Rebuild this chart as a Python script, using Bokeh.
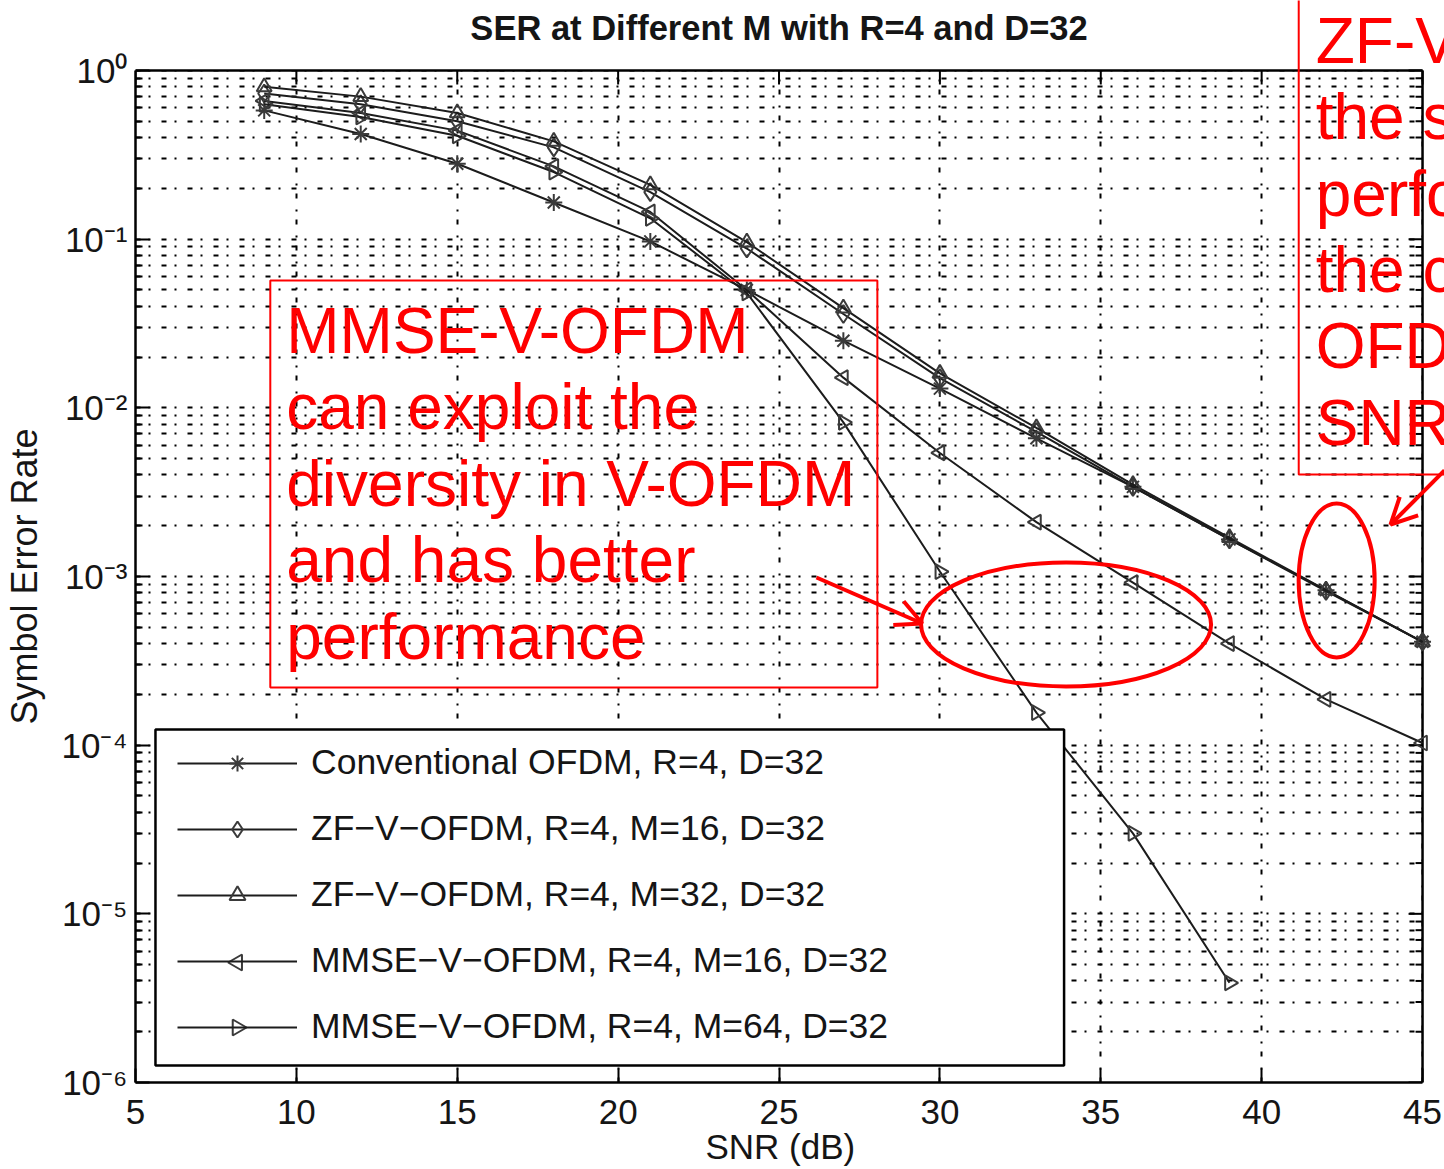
import numpy as np
from bokeh.plotting import figure
from bokeh.models import (Range1d, FixedTicker, CustomJSTickFormatter, ColumnDataSource,
                          Label, BoxAnnotation, Arrow, OpenHead, Legend, LegendItem)
from bokeh.embed import file_html
from bokeh.resources import INLINE

# ---------------- data ----------------
snr = [9, 12, 15, 18, 21, 24, 27, 30, 33, 36, 39, 42, 45]
ser_conv = [0.58, 0.42, 0.28, 0.165, 0.097, 0.050, 0.025, 0.013, 0.0066, 0.0034, 0.00166, 0.00083, 0.00041]
ser_zf16 = [0.73, 0.63, 0.50, 0.35, 0.19, 0.088, 0.036, 0.015, 0.0072, 0.0034, 0.00166, 0.00082, 0.00041]
ser_zf32 = [0.80, 0.70, 0.56, 0.38, 0.21, 0.096, 0.039, 0.016, 0.0076, 0.0035, 0.0017, 0.00083, 0.00041]
ser_mmse16 = [0.66, 0.56, 0.44, 0.27, 0.145, 0.050, 0.0151, 0.0054, 0.0021, 0.00092, 0.00040, 0.000187, 0.000103]
snr_mmse64 = [9, 12, 15, 18, 21, 24, 27, 30, 33, 36, 39]
ser_mmse64 = [0.63, 0.53, 0.41, 0.25, 0.133, 0.048, 0.0082, 0.00107, 0.000156, 0.000030, 0.0000039]

labels = ["Conventional OFDM, R=4, D=32",
          "ZF\u2212V\u2212OFDM, R=4, M=16, D=32",
          "ZF\u2212V\u2212OFDM, R=4, M=32, D=32",
          "MMSE\u2212V\u2212OFDM, R=4, M=16, D=32",
          "MMSE\u2212V\u2212OFDM, R=4, M=64, D=32"]

x_ticks = [5, 10, 15, 20, 25, 30, 35, 40, 45]
y_ticks = [1.0, 1e-1, 1e-2, 1e-3, 1e-4, 1e-5, 1e-6]
y_tick_labels = ["10\u2070", "10\u207b\u00b9", "10\u207b\u00b2", "10\u207b\u00b3",
                 "10\u207b\u2074", "10\u207b\u2075", "10\u207b\u2076"]

title_text = "SER at Different M with R=4 and D=32"
x_label = "SNR (dB)"
y_label = "Symbol Error Rate"
note1 = ["MMSE-V-OFDM", "can exploit the", "diversity in V-OFDM", "and has better", "performance"]
note2 = ["ZF-V-OFDM has", "the same", "performance as", "the conventional", "OFDM at high", "SNR"]

# ---------------- geometry helpers (canvas pixels -> data) ----------------
W, H = 1444, 1169
FX0, FX1, FY0, FY1 = 133, 1422, 70, 1082          # the axes box
XMIN, XMAX, DEC_TOP, DEC_BOT = 5, 45, 0, -6


def dx(px):
    return XMIN + (px - FX0) * (XMAX - XMIN) / (FX1 - FX0)


def dy(py):
    return 10 ** (DEC_TOP - (py - FY0) * (DEC_TOP - DEC_BOT) / (FY1 - FY0))


NBSP = "\u00a0"
FONT = "Liberation Sans"
TXT = "#151515"
YMIN, YMAX = 10.0 ** DEC_BOT, 10.0 ** DEC_TOP

y_minor = [m * 10.0 ** e for e in range(DEC_BOT, DEC_TOP) for m in range(2, 10)]

# the drawing area reaches the top and right edges of the canvas so that the
# annotations outside the axes box (as in the original slide) are not clipped
p = figure(width=W, height=H, x_range=Range1d(XMIN, dx(W)), y_range=Range1d(YMIN, dy(0)),
           y_axis_type="log", output_backend="svg", toolbar_location=None,
           min_border_left=FX0, min_border_right=0, min_border_top=0, min_border_bottom=H - FY1)
p.background_fill_color = "white"
p.border_fill_color = "white"
p.outline_line_color = None

# axes (bounded to the axes box)
p.xaxis.ticker = FixedTicker(ticks=x_ticks)
p.xaxis.bounds = (XMIN, XMAX)
p.yaxis.ticker = FixedTicker(ticks=y_ticks, minor_ticks=y_minor)
p.yaxis.bounds = (YMIN, YMAX)
p.yaxis.formatter = CustomJSTickFormatter(args=dict(vals=y_ticks, labs=y_tick_labels), code="""
let best = 0, bd = 1e9;
for (let i = 0; i < vals.length; i++) {
  const d = Math.abs(Math.log10(vals[i]) - Math.log10(tick));
  if (d < bd) { bd = d; best = i; }
}
return labs[best];
""")
for ax in (p.xaxis[0], p.yaxis[0]):
    ax.axis_line_width = 2.5
    ax.major_tick_in = 14
    ax.major_tick_out = 0
    ax.minor_tick_in = 7
    ax.minor_tick_out = 0
    ax.major_tick_line_width = 2
    ax.minor_tick_line_width = 2
    ax.major_label_text_font = FONT
    ax.major_label_text_font_size = "35px"
    ax.major_label_text_color = TXT
    ax.axis_label_text_font = FONT
    ax.axis_label_text_font_size = "35px"
    ax.axis_label_text_font_style = "normal"
    ax.axis_label_text_color = TXT
p.xaxis.major_label_standoff = 17
# trailing no-break spaces re-centre the labels on the axes box instead of the wider drawing area
p.xaxis.axis_label = x_label + NBSP * 2
p.xaxis.axis_label_standoff = 0
p.yaxis.major_label_standoff = 8
p.yaxis.axis_label = y_label + NBSP * 7
p.yaxis.axis_label_text_font_size = "36px"
p.yaxis.axis_label_standoff = 14

# grid (MATLAB-style dotted)
GRID_DASH = "5 8 2 11"
p.xgrid.grid_line_color = "black"
p.xgrid.grid_line_dash = GRID_DASH
p.xgrid.grid_line_width = 2
p.ygrid.grid_line_color = "black"
p.ygrid.grid_line_dash = GRID_DASH
p.ygrid.grid_line_width = 2
p.ygrid.minor_grid_line_color = "black"
p.ygrid.minor_grid_line_dash = GRID_DASH
p.ygrid.minor_grid_line_width = 2
# keep the grid inside the axes box
p.add_layout(BoxAnnotation(bottom=YMAX, fill_color="white", fill_alpha=1, line_alpha=0, level="underlay"))
p.add_layout(BoxAnnotation(left=XMAX, fill_color="white", fill_alpha=1, line_alpha=0, level="underlay"))

# top and right sides of the box, with inward ticks
p.segment(x0=[XMIN, XMAX], y0=[YMAX, YMIN], x1=[XMAX, XMAX], y1=[YMAX, YMAX], line_color="black", line_width=2.5)
p.segment(x0=x_ticks, y0=[YMAX] * len(x_ticks), x1=x_ticks, y1=[dy(FY0 + 14)] * len(x_ticks),
          line_color="black", line_width=2)
p.segment(x0=[XMAX] * len(y_ticks), y0=y_ticks, x1=[dx(FX1 - 14)] * len(y_ticks), y1=y_ticks,
          line_color="black", line_width=2)
p.segment(x0=[XMAX] * len(y_minor), y0=y_minor, x1=[dx(FX1 - 7)] * len(y_minor), y1=y_minor,
          line_color="black", line_width=2)

# title
p.add_layout(Label(x=dx((FX0 + FX1) / 2), y=dy(27), text=title_text, text_font=FONT, text_font_size="34.5px",
                   text_font_style="bold", text_color=TXT, text_align="center", text_baseline="alphabetic"))

# series
LC = "#1c1c1c"
MC = "#3a3a3a"
series = [
    (snr, ser_conv, "asterisk", 0.0, 17, True),
    (snr, ser_zf16, "diamond", 0.0, 18, True),
    (snr, ser_zf32, "triangle", 0.0, 15, True),
    (snr, ser_mmse16, "triangle", np.pi / 2, 15, False),
    (snr_mmse64, ser_mmse64, "triangle", -np.pi / 2, 15, False),
]
items = []
for (xs, ys, mk, ang, sz, mk_in_legend), lab in zip(series, labels):
    rl = p.line(xs, ys, line_color=LC, line_width=2)
    rs = p.scatter(xs, ys, marker=mk, angle=ang, size=sz, line_color=MC, line_width=2, fill_color=None)
    items.append(LegendItem(label=lab, renderers=[rl, rs] if mk_in_legend else [rl]))

# legend box (white, covers grid & lines)
p.add_layout(BoxAnnotation(left=dx(153), right=dx(1063), top=dy(729), bottom=dy(1065),
                           fill_color="white", fill_alpha=1, line_color="black", line_alpha=1, line_width=2.5))
leg = Legend(items=items, location=(32, 25), padding=10, margin=0, spacing=25,
             glyph_width=120, glyph_height=40, label_height=40, label_standoff=14,
             label_text_font=FONT, label_text_font_size="35.5px", label_text_color=TXT,
             background_fill_alpha=0, border_line_alpha=0)
p.add_layout(leg, "center")
# rotated triangle samples for the two MMSE legend rows (legend ignores marker angle)
leg_src = ColumnDataSource(dict(x=[dx(235), dx(235)], y=[dy(962), dy(1027)], a=[np.pi / 2, -np.pi / 2]))
p.scatter("x", "y", source=leg_src, marker="triangle", angle="a", size=16, line_color=MC,
          line_width=2, fill_color="white", level="overlay")

# annotations in red
RED = "#ff0000"
p.add_layout(BoxAnnotation(left=dx(268), right=dx(876), top=dy(280), bottom=dy(687),
                           fill_alpha=0, line_color=RED, line_alpha=1, line_width=2))
p.add_layout(BoxAnnotation(left=dx(1298), right=dx(1600), top=dy(-20), bottom=dy(474),
                           fill_alpha=0, line_color=RED, line_alpha=1, line_width=2))
base1 = [330, 406.5, 483, 559.5, 636]
for t, b in zip(note1, base1):
    p.add_layout(Label(x=dx(284), y=dy(b), text=t, text_font=FONT, text_font_size="64px",
                       text_color=RED, text_baseline="alphabetic", text_align="left"))
base2 = [40, 116, 193, 269, 345, 422]
for t, b in zip(note2, base2):
    p.add_layout(Label(x=dx(1315), y=dy(b), text=t, text_font=FONT, text_font_size="64px",
                       text_color=RED, text_baseline="alphabetic", text_align="left"))

p.ellipse(x=[dx(1065)], y=[dy(624)], width=[290], height=[124], width_units="screen",
          height_units="screen", fill_color=None, line_color=RED, line_width=4)
p.ellipse(x=[dx(1336)], y=[dy(580)], width=[76], height=[154], width_units="screen",
          height_units="screen", fill_color=None, line_color=RED, line_width=4)

p.add_layout(Arrow(end=OpenHead(size=26, line_color=RED, line_width=4),
                   x_start=dx(815), y_start=dy(577), x_end=dx(921), y_end=dy(623),
                   line_color=RED, line_width=4))
p.add_layout(Arrow(end=OpenHead(size=26, line_color=RED, line_width=4),
                   x_start=dx(1444), y_start=dy(470), x_end=dx(1390), y_end=dy(524),
                   line_color=RED, line_width=4))

open("out.html", "w").write(file_html(p, INLINE))
